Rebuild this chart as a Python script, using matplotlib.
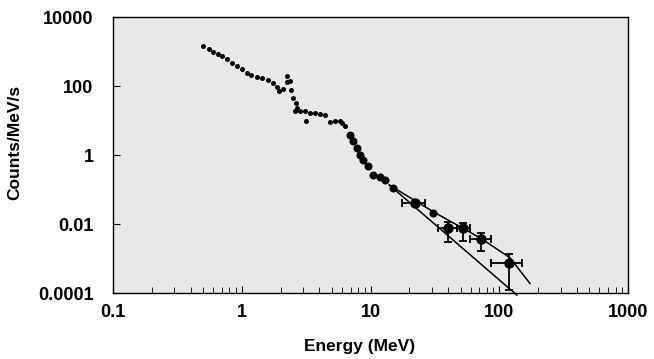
"""
Energy spectrum, counts per MeV per second vs energy (log-log),
with two model curves over the high-energy part.
"""

import matplotlib

matplotlib.use("Agg")
import matplotlib.pyplot as plt
from matplotlib.ticker import LogLocator, FixedLocator, NullLocator

plt.rcParams.update({
    "font.family": ["Liberation Sans", "DejaVu Sans"],
    "font.weight": "bold",
    "font.size": 12,
})

# low-energy spectrum, small dots
e_low = [0.50, 0.557, 0.60, 0.658, 0.706, 0.764, 0.836, 0.914, 1.0, 1.09,
         1.19, 1.31, 1.43, 1.61, 1.74, 1.87, 1.96, 2.09, 2.23, 2.26,
         2.36, 2.40, 2.51, 2.62, 2.67, 2.58, 2.82, 3.08, 3.17, 3.37,
         3.69, 4.03, 4.41, 4.82, 5.27, 5.76, 5.97, 6.34]
c_low = [1470, 1180, 986, 830, 741, 594, 473, 380, 305, 243,
         208, 186, 167, 149, 125, 95, 72, 82, 199, 133,
         143, 77, 46, 31.5, 22.6, 19.2, 18.5, 18.5, 9.9, 16.5,
         16.5, 15.4, 14.2, 9.05, 9.5, 9.9, 8.5, 6.8]

# mid-energy spectrum, larger dots
e_mid = [6.93, 7.27, 7.81, 8.28, 8.79, 9.62, 10.5, 11.9, 13.0, 15.0, 30.7]
c_mid = [3.9, 2.5, 1.6, 1.02, 0.73, 0.47, 0.27, 0.226, 0.192, 0.110, 0.0204]

# high-energy points with error bars
e_hi = [22.2, 40.2, 52.6, 72.1, 119.7]
c_hi = [0.0414, 0.0075, 0.0075, 0.0036, 0.00073]
e_lo_edge = [17.7, 33.6, 46.7, 59.3, 86.0]
e_hi_edge = [26.4, 46.7, 59.3, 86.0, 151.0]
c_up = [0.0414, 0.0117, 0.0109, 0.0056, 0.00132]
c_dn = [0.0414, 0.00307, 0.00321, 0.00165, 0.000122]

# model curves
fit1_e = [14.0, 137.0]
fit1_c = [0.135, 0.000087]
fit2_e = [14.0, 30.7, 72.0, 121.0, 173.0]
fit2_c = [0.135, 0.0227, 0.00385, 0.00105, 0.00019]

fig = plt.figure(figsize=(6.54, 3.59), dpi=100)
ax = fig.add_axes([0.1728, 0.1838, 0.7875, 0.7688])
ax.set_facecolor("#e8e8e8")

ax.plot(e_low, c_low, "o", color="black", markersize=3.6, markeredgewidth=0)
ax.plot(e_mid, c_mid, "o", color="black", markersize=5.8, markeredgewidth=0)

xerr = [[e - lo for e, lo in zip(e_hi, e_lo_edge)],
        [hi - e for e, hi in zip(e_hi, e_hi_edge)]]
yerr = [[c - d for c, d in zip(c_hi, c_dn)],
        [u - c for c, u in zip(c_hi, c_up)]]
ax.errorbar(e_hi, c_hi, xerr=xerr, yerr=yerr, fmt="o", color="black",
            markersize=6.5, elinewidth=1.3, capsize=3, capthick=1.3,
            clip_on=False)

ax.plot(fit1_e, fit1_c, "-", color="black", linewidth=1.1, clip_on=False)
ax.plot(fit2_e, fit2_c, "-", color="black", linewidth=1.1)

ax.set_xscale("log")
ax.set_yscale("log")
ax.set_xlim(0.1, 1000)
ax.set_ylim(1e-4, 1e4)

ax.xaxis.set_major_locator(FixedLocator([0.1, 1, 10, 100, 1000]))
ax.set_xticklabels(["0.1", "1", "10", "100", "1000"])
ax.xaxis.set_minor_locator(LogLocator(base=10, subs=range(2, 10)))
ax.yaxis.set_major_locator(FixedLocator([1e-4, 1e-2, 1, 100, 1e4]))
ax.set_yticklabels(["0.0001", "0.01", "1", "100", "10000"])
ax.yaxis.set_minor_locator(NullLocator())

ax.tick_params(axis="x", which="both", direction="in", pad=8, labelsize=13)
ax.tick_params(axis="x", which="major", length=5)
ax.tick_params(axis="x", which="minor", length=4)
ax.tick_params(axis="y", direction="in", length=5, pad=14, labelsize=13)

for sp in ax.spines.values():
    sp.set_linewidth(1.0)

ax.set_xlabel("Energy (MeV)", fontsize=12.5, fontweight="bold")
ax.set_ylabel("Counts/MeV/s", fontsize=12.5, fontweight="bold")
ax.xaxis.set_label_coords(0.478, -0.168)
ax.yaxis.set_label_coords(-0.177, 0.545)

fig.savefig("out.png", dpi=100)
